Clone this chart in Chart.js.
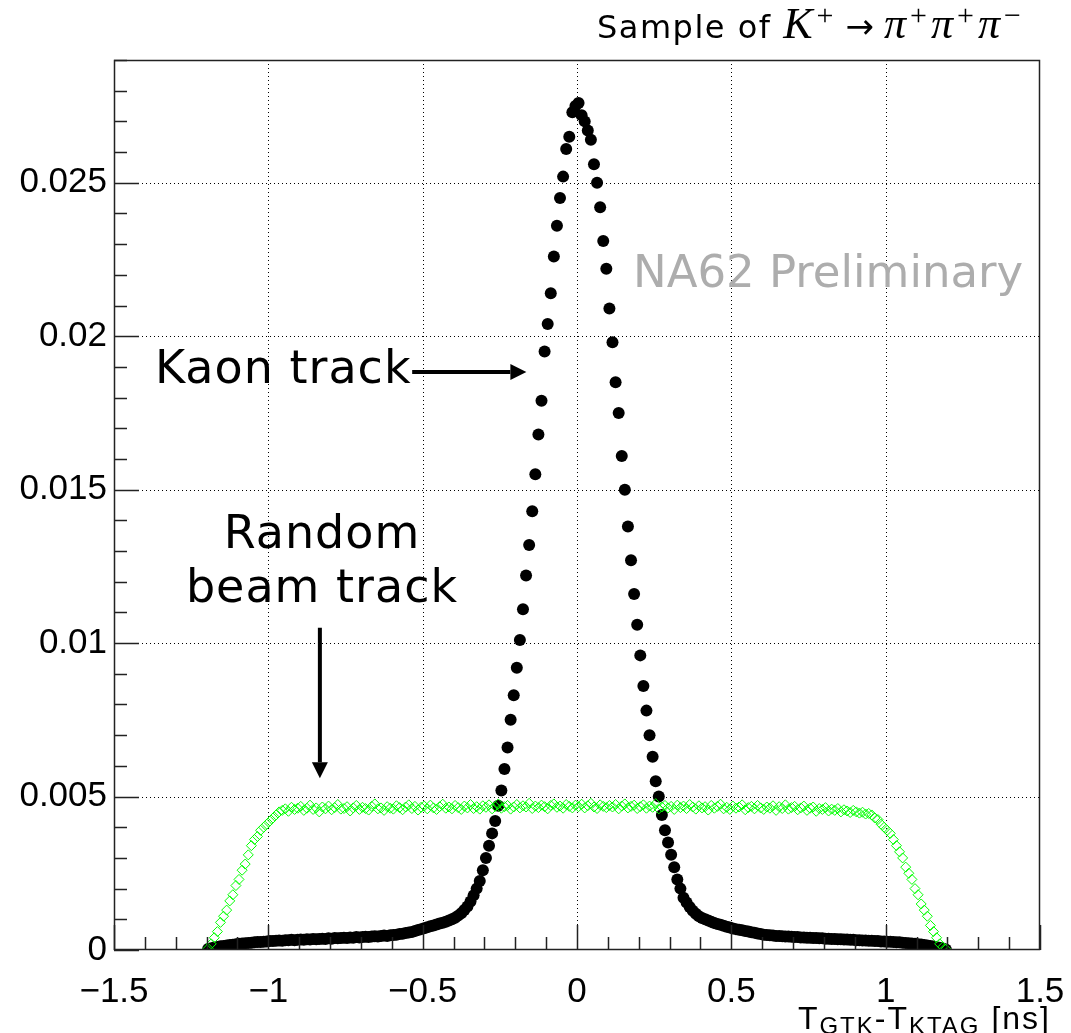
<!DOCTYPE html>
<html>
<head>
<meta charset="utf-8">
<script src="https://cdn.jsdelivr.net/npm/chart.js@4.4.1/dist/chart.umd.min.js"></script>
<style>
  body { margin: 0; background: #fff; }
  #wrap { position: relative; width: 1071px; height: 1033px; overflow: hidden; }
  #c { position: absolute; left: 0; top: 0; }
  .note { position: absolute; white-space: nowrap; color: #000; }
  .gothic { font-family: "DejaVu Sans", sans-serif; }
  .math { font-family: "Liberation Serif", serif; font-size: 44px; letter-spacing: 4px; }
  .math sup { font-size: 30px; vertical-align: 0.42em; line-height: 0; font-style: normal; }
  .math .arr { font-family: "DejaVu Sans", sans-serif; font-size: 34px; margin: 0 10px 0 8px; letter-spacing: 0; }
  #title { left: 597px; top: 4px; font-size: 32px; line-height: 40px; letter-spacing: 1.5px; }
  #kaon { left: 155px; top: 344px; font-size: 46px; line-height: 46px; letter-spacing: 1px; }
  #beam { left: 172px; width: 300px; top: 505px; font-size: 46px; line-height: 54px; letter-spacing: 1px; text-align: center; }
  #prelim { left: 633px; top: 249px; font-size: 45px; line-height: 45px; color: #adadad; }
  #xtitle { right: 20px; top: 1002px; font-family: "Liberation Sans", Arial, sans-serif; font-size: 32px; line-height: 32px; letter-spacing: 2px; }
  #xtitle sub { font-size: 24px; vertical-align: -0.2em; line-height: 0; }
</style>
</head>
<body>
<div id="wrap">
  <canvas id="c" width="1071" height="1033"></canvas>
  <div id="title" class="note"><span class="gothic">Sample of </span><span class="math"><i>K</i><sup>+</sup><span class="arr">→</span><i>π</i><sup>+</sup><i>π</i><sup>+</sup><i>π</i><sup>−</sup></span></div>
  <div id="prelim" class="note gothic">NA62 Preliminary</div>
  <div id="kaon" class="note gothic">Kaon track</div>
  <div id="beam" class="note gothic">Random<br>beam track</div>
  <div id="xtitle" class="note">T<sub>GTK</sub>-T<sub>KTAG</sub> [ns]</div>
</div>
<script>
// histogram binning: 240 bins of 0.01 ns from -1.2 to 1.2
const binLow = -1.2;
const binWidth = 0.01;

const xTicks = [-1.5, -1, -0.5, 0, 0.5, 1, 1.5];
const yTicks = [0, 0.005, 0.01, 0.015, 0.02, 0.025];

// black full circles - kaon track
const kaonTrack = [
  0.00003, 0.00006, 0.00008, 0.0001, 0.00012, 0.00013, 0.00015, 0.00016, 0.00017, 0.00019,
  0.0002, 0.00021, 0.00022, 0.00023, 0.00024, 0.00025, 0.00026, 0.00026, 0.00027, 0.00028,
  0.00029, 0.00029, 0.0003, 0.00031, 0.0003, 0.00032, 0.00032, 0.00033, 0.00032, 0.00033,
  0.00034, 0.00033, 0.00035, 0.00034, 0.00036, 0.00035, 0.00036, 0.00037, 0.00036, 0.00038,
  0.00037, 0.00039, 0.00038, 0.00039, 0.0004, 0.00039, 0.00041, 0.0004, 0.00042, 0.00041,
  0.00042, 0.00043, 0.00042, 0.00044, 0.00045, 0.00044, 0.00046, 0.00047, 0.00046, 0.00048,
  0.00049, 0.0005, 0.00052, 0.00053, 0.00055, 0.00057, 0.00059, 0.00062, 0.00065, 0.00068,
  0.00071, 0.00074, 0.00077, 0.0008, 0.00083, 0.00086, 0.00089, 0.00092, 0.00096, 0.001,
  0.00105, 0.00112, 0.0012, 0.0013, 0.00142, 0.00158, 0.00178, 0.002, 0.00225, 0.0026,
  0.003, 0.0034, 0.0038, 0.0042, 0.0047, 0.0052, 0.0059, 0.0066, 0.0075, 0.0083,
  0.0092, 0.0101, 0.0111, 0.0122, 0.0132, 0.0143, 0.0155, 0.0168, 0.0179, 0.0195,
  0.0204, 0.0214, 0.0226, 0.0236, 0.0245, 0.0252, 0.0261, 0.0265, 0.0273, 0.0275,
  0.0276, 0.0272, 0.027, 0.0267, 0.0264, 0.0256, 0.025, 0.0242, 0.0231, 0.0222,
  0.0209, 0.0198, 0.0185, 0.0175, 0.0161, 0.015, 0.0138, 0.0127, 0.0116, 0.0106,
  0.0096, 0.0086, 0.0078, 0.007, 0.0063, 0.0055, 0.005, 0.0044, 0.0039, 0.0035,
  0.0031, 0.0027, 0.0023, 0.002, 0.0017, 0.00155, 0.0014, 0.00128, 0.00118, 0.0011,
  0.00104, 0.001, 0.00096, 0.00092, 0.00088, 0.00085, 0.00082, 0.00079, 0.00076, 0.00073,
  0.0007, 0.00068, 0.00066, 0.00064, 0.00062, 0.0006, 0.00058, 0.00056, 0.00054, 0.00052,
  0.0005, 0.00049, 0.00048, 0.00047, 0.00046, 0.00046, 0.00045, 0.00044, 0.00044, 0.00043,
  0.00042, 0.00042, 0.00041, 0.00041, 0.0004, 0.0004, 0.00039, 0.00039, 0.00038, 0.00038,
  0.00037, 0.00037, 0.00036, 0.00036, 0.00035, 0.00035, 0.00034, 0.00034, 0.00033, 0.00033,
  0.00032, 0.00032, 0.00031, 0.00031, 0.0003, 0.0003, 0.00029, 0.00029, 0.00028, 0.00028,
  0.00027, 0.00027, 0.00026, 0.00025, 0.00025, 0.00024, 0.00023, 0.00022, 0.00021, 0.0002,
  0.00019, 0.00018, 0.00016, 0.00015, 0.00013, 0.00011, 0.00009, 0.00007, 0.00005, 0.00002
];

// green open diamonds - random beam track
const randomBeamTrack = [
  0.00005, 0.0002, 0.0004, 0.0006, 0.0009, 0.0011, 0.0013, 0.0016, 0.0018, 0.0021,
  0.0023, 0.0026, 0.0028, 0.0031, 0.0034, 0.0036, 0.0037, 0.0039, 0.004, 0.0041,
  0.0042, 0.0043, 0.0044, 0.0045, 0.00455, 0.0046, 0.00452, 0.00465, 0.00458, 0.00462,
  0.00468, 0.00455, 0.00462, 0.00472, 0.00458, 0.00463, 0.0045, 0.00466, 0.0046, 0.00469,
  0.00457, 0.00464, 0.00474, 0.00459, 0.00461, 0.00467, 0.00453, 0.00463, 0.00471, 0.00458,
  0.00465, 0.00461, 0.00456, 0.00468, 0.00476, 0.0046, 0.00463, 0.00455, 0.00467, 0.00462,
  0.00459, 0.0047, 0.00464, 0.00457, 0.00466, 0.00473, 0.00461, 0.00468, 0.00456, 0.00465,
  0.00469, 0.0046, 0.00472, 0.00463, 0.00458, 0.00467, 0.00475, 0.00462, 0.00466, 0.0046,
  0.00471, 0.00464, 0.00458, 0.00469, 0.00463, 0.00474, 0.00461, 0.00467, 0.00459, 0.0047,
  0.00465, 0.00473, 0.0046, 0.00468, 0.00476, 0.00462, 0.00467, 0.00471, 0.00459, 0.00466,
  0.00474, 0.00463, 0.0047, 0.00466, 0.00478, 0.00461, 0.00469, 0.00464, 0.00472, 0.00467,
  0.0046, 0.00471, 0.00476, 0.00465, 0.00469, 0.00462, 0.00474, 0.00468, 0.00463, 0.00472,
  0.00467, 0.00475, 0.00463, 0.0047, 0.00478, 0.00466, 0.00461, 0.00473, 0.00468, 0.00464,
  0.00471, 0.00466, 0.00474, 0.0046, 0.00469, 0.00476, 0.00463, 0.00468, 0.00472, 0.00461,
  0.00467, 0.00473, 0.00462, 0.00469, 0.00465, 0.00477, 0.0046, 0.00466, 0.00471, 0.00463,
  0.00468, 0.00458, 0.00472, 0.00464, 0.00469, 0.00461, 0.00474, 0.00466, 0.00459, 0.0047,
  0.00463, 0.00467, 0.00456, 0.00471, 0.00462, 0.00468, 0.00475, 0.0046, 0.00465, 0.00458,
  0.00469, 0.00462, 0.00466, 0.00473, 0.00457, 0.00464, 0.00468, 0.0046, 0.00471, 0.00463,
  0.00458, 0.00466, 0.00462, 0.0047, 0.00455, 0.00467, 0.00461, 0.00473, 0.00459, 0.00464,
  0.00468, 0.00457, 0.00463, 0.00469, 0.00455, 0.00462, 0.00466, 0.00452, 0.00461, 0.00458,
  0.00464, 0.00453, 0.00459, 0.00455, 0.00461, 0.0045, 0.00457, 0.00453, 0.00448, 0.00455,
  0.0045, 0.00446, 0.00449, 0.00443, 0.00445, 0.0044, 0.0043, 0.00425, 0.0041, 0.004,
  0.0039, 0.0038, 0.0036, 0.0034, 0.0032, 0.003, 0.0027, 0.0025, 0.0023, 0.002,
  0.0018, 0.0015, 0.0013, 0.0011, 0.0008, 0.0006, 0.0004, 0.0002, 0.0001, 0.00003
];

const binCenter = i => binLow + binWidth * (i + 0.5);
const toPoints = values => values.map((v, i) => ({ x: binCenter(i), y: v }));

const labelFont = { family: "'Liberation Sans', Arial, sans-serif", size: 35 };

function drawArrow(ctx, x0, y0, x1, y1) {
  const ang = Math.atan2(y1 - y0, x1 - x0);
  const head = 16, half = 8;
  const bx = x1 - head * Math.cos(ang), by = y1 - head * Math.sin(ang);
  ctx.beginPath();
  ctx.moveTo(x0, y0);
  ctx.lineTo(bx, by);
  ctx.stroke();
  ctx.beginPath();
  ctx.moveTo(x1, y1);
  ctx.lineTo(bx + half * Math.sin(ang), by - half * Math.cos(ang));
  ctx.lineTo(bx - half * Math.sin(ang), by + half * Math.cos(ang));
  ctx.closePath();
  ctx.fill();
}

// ROOT-like frame: dotted grid under the markers, inward ticks and arrows on top
const rootFrame = {
  id: "rootFrame",
  beforeDatasetsDraw(chart) {
    const { ctx, chartArea: a, scales: { x, y } } = chart;
    ctx.save();
    ctx.strokeStyle = "#000";
    ctx.lineWidth = 1;
    ctx.setLineDash([1, 3]);
    ctx.beginPath();
    xTicks.slice(1, -1).forEach(v => {
      const px = Math.round(x.getPixelForValue(v)) + 0.5;
      ctx.moveTo(px, a.top);
      ctx.lineTo(px, a.bottom);
    });
    yTicks.slice(1).forEach(v => {
      const py = Math.round(y.getPixelForValue(v)) + 0.5;
      ctx.moveTo(a.left, py);
      ctx.lineTo(a.right, py);
    });
    ctx.stroke();
    ctx.restore();
  },
  afterDatasetsDraw(chart) {
    const { ctx, chartArea: a, scales: { x, y } } = chart;
    ctx.save();
    ctx.strokeStyle = "#222";
    ctx.lineWidth = 1.5;
    ctx.beginPath();
    for (let k = -15; k <= 15; k++) {
      const px = Math.round(x.getPixelForValue(k / 10)) + 0.5;
      const len = k % 5 === 0 ? 25 : 13;
      ctx.moveTo(px, a.bottom);
      ctx.lineTo(px, a.bottom - len);
    }
    for (let k = 0; k <= 29; k++) {
      const py = Math.round(y.getPixelForValue(k / 1000)) + 0.5;
      const len = k % 5 === 0 ? 25 : 13;
      ctx.moveTo(a.left, py);
      ctx.lineTo(a.left + len, py);
    }
    ctx.stroke();
    ctx.strokeRect(a.left + 0.5, a.top + 0.5, a.right - a.left - 1, a.bottom - a.top - 1);

    ctx.strokeStyle = "#000";
    ctx.fillStyle = "#000";
    ctx.lineWidth = 4;
    drawArrow(ctx, x.getPixelForValue(-0.534), y.getPixelForValue(0.01883),
                   x.getPixelForValue(-0.164), y.getPixelForValue(0.01883));
    drawArrow(ctx, x.getPixelForValue(-0.833), y.getPixelForValue(0.0105),
                   x.getPixelForValue(-0.833), y.getPixelForValue(0.0056));
    ctx.restore();
  }
};

new Chart(document.getElementById("c"), {
  type: "scatter",
  data: {
    datasets: [
      {
        label: "Random beam track",
        data: toPoints(randomBeamTrack),
        pointStyle: "rectRot",
        pointRadius: 5,
        borderColor: "#00ff00",
        backgroundColor: "rgba(0,0,0,0)",
        borderWidth: 1,
        order: 0
      },
      {
        label: "Kaon track",
        data: toPoints(kaonTrack),
        pointStyle: "circle",
        pointRadius: 6,
        borderColor: "#000",
        backgroundColor: "#000",
        borderWidth: 0,
        order: 1
      }
    ]
  },
  options: {
    responsive: false,
    animation: false,
    devicePixelRatio: 1,
    layout: { padding: { left: 0, right: 0, top: 60, bottom: 0 } },
    plugins: { legend: { display: false }, tooltip: { enabled: false } },
    scales: {
      x: {
        type: "linear",
        min: -1.5,
        max: 1.5,
        grid: { display: false, drawTicks: false },
        border: { display: false },
        afterBuildTicks: s => { s.ticks = xTicks.map(v => ({ value: v })); },
        afterFit: s => { s.height = 83; s.paddingLeft = 0; s.paddingRight = 31; },
        ticks: {
          font: labelFont,
          color: "#000",
          padding: 21,
          maxRotation: 0,
          callback: v => (v < 0 ? "\u2212" + Math.abs(v) : String(v))
        }
      },
      y: {
        type: "linear",
        min: 0,
        max: 0.029,
        grid: { display: false, drawTicks: false },
        border: { display: false },
        afterBuildTicks: s => { s.ticks = yTicks.map(v => ({ value: v })); },
        afterFit: s => { s.width = 114; s.paddingTop = 0; s.paddingBottom = 0; },
        ticks: {
          font: labelFont,
          color: "#000",
          padding: 7,
          callback: v => String(+v.toFixed(3))
        }
      }
    }
  },
  plugins: [rootFrame]
});
</script>
</body>
</html>
